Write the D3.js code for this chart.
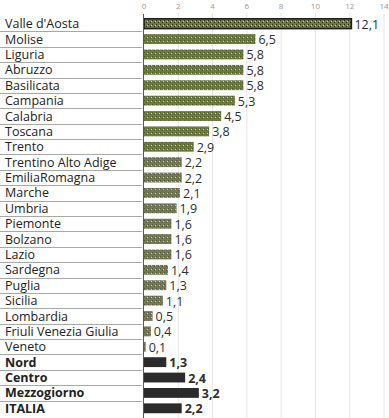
<!DOCTYPE html>
<html>
<head>
<meta charset="utf-8">
<script src="https://cdn.jsdelivr.net/npm/d3@7"></script>
<style>
  body { margin: 0; background: #fff; }
  text { font-family: "Open Sans", "DejaVu Sans", sans-serif; }
</style>
</head>
<body>
<script>
//regions, values and which rows are totals
var regions = ["Valle d'Aosta", "Molise", "Liguria", "Abruzzo", "Basilicata", "Campania",
    "Calabria", "Toscana", "Trento", "Trentino Alto Adige", "EmiliaRomagna", "Marche",
    "Umbria", "Piemonte", "Bolzano", "Lazio", "Sardegna", "Puglia", "Sicilia",
    "Lombardia", "Friuli Venezia Giulia", "Veneto", "Nord", "Centro", "Mezzogiorno", "ITALIA"];
var values = [12.1, 6.5, 5.8, 5.8, 5.8, 5.3, 4.5, 3.8, 2.9, 2.2, 2.2, 2.1, 1.9, 1.6, 1.6, 1.6,
    1.4, 1.3, 1.1, 0.5, 0.4, 0.1, 1.3, 2.4, 3.2, 2.2];
var totals = ["Nord", "Centro", "Mezzogiorno", "ITALIA"];
var ticks = [0, 2, 4, 6, 8, 10, 12, 14];

var width = 389,
    height = 418;

var svg = d3.select("body")
    .append("svg")
    .attr("width", width)
    .attr("height", height);

//textured fills
var defs = svg.append("defs");
function texture(id, base, dot) {
    var p = defs.append("pattern")
        .attr("id", id)
        .attr("patternUnits", "userSpaceOnUse")
        .attr("width", 4)
        .attr("height", 4);
    p.append("rect").attr("width", 4).attr("height", 4).attr("fill", base);
    p.append("rect").attr("x", 0).attr("y", 0).attr("width", 1).attr("height", 1).attr("fill", dot);
    p.append("rect").attr("x", 2).attr("y", 2).attr("width", 1).attr("height", 1).attr("fill", dot);
    p.append("rect").attr("x", 3).attr("y", 1).attr("width", 1).attr("height", 1).attr("fill", "#c9cfa6");
}
texture("olive", "#6d7b3b", "#4e5a2a");
texture("oliveGray", "#757a55", "#55593b");
texture("valle", "#6f7a3c", "#262a16");

var x = d3.scaleLinear()
    .domain([0, 14])
    .range([144, 384]);

var y = d3.scaleBand()
    .domain(regions)
    .range([16, 416])
    .paddingInner(0.36)
    .paddingOuter(0.18);

//gridlines
svg.append("g")
    .selectAll("line")
    .data(ticks.slice(1))
    .enter()
    .append("line")
    .attr("x1", function(d){ return x(d); })
    .attr("x2", function(d){ return x(d); })
    .attr("y1", 13)
    .attr("y2", height)
    .attr("stroke", "#e6e6e6")
    .attr("stroke-width", 1);

//tick labels on top
svg.append("g")
    .selectAll("text")
    .data(ticks)
    .enter()
    .append("text")
    .attr("x", function(d){ return x(d); })
    .attr("y", 9)
    .attr("text-anchor", "middle")
    .attr("font-size", 8)
    .attr("fill", "#999")
    .text(function(d){ return d; });

//row separators on the label side
var step = y.step();
svg.append("g")
    .selectAll("line")
    .data(regions.slice(1))
    .enter()
    .append("line")
    .attr("x1", 0)
    .attr("x2", 142)
    .attr("y1", function(d){ return Math.round(y(d) - step * 0.18) + 0.5; })
    .attr("y2", function(d){ return Math.round(y(d) - step * 0.18) + 0.5; })
    .attr("stroke", "#a8a8a8")
    .attr("stroke-width", 1);

//bars
svg.append("g")
    .selectAll("rect")
    .data(regions)
    .enter()
    .append("rect")
    .attr("x", x(0))
    .attr("y", function(d){ return y(d); })
    .attr("width", function(d, i){ return x(values[i]) - x(0); })
    .attr("height", y.bandwidth())
    .attr("fill", function(d, i){
        if (totals.indexOf(d) >= 0) return "#2b2b2b";
        if (i === 0) return "url(#valle)";
        return values[i] >= 2.5 ? "url(#olive)" : "url(#oliveGray)";
    })
    .attr("stroke", function(d, i){ return i === 0 ? "#1a1a1a" : "none"; })
    .attr("stroke-width", 1.5);

//axis line
svg.append("line")
    .attr("x1", 143.5)
    .attr("x2", 143.5)
    .attr("y1", 14)
    .attr("y2", height)
    .attr("stroke", "#555")
    .attr("stroke-width", 1);

//region labels
svg.append("g")
    .selectAll("text")
    .data(regions)
    .enter()
    .append("text")
    .attr("x", 5)
    .attr("y", function(d){ return y(d) + y.bandwidth() / 2 + 4.5; })
    .attr("font-size", 12.5)
    .attr("font-weight", function(d){ return totals.indexOf(d) >= 0 ? "bold" : "normal"; })
    .attr("fill", "#222")
    .text(function(d){ return d; });

//value labels
svg.append("g")
    .selectAll("text")
    .data(regions)
    .enter()
    .append("text")
    .attr("x", function(d, i){ return x(values[i]) + 3; })
    .attr("y", function(d){ return y(d) + y.bandwidth() / 2 + 5; })
    .attr("font-size", 12.5)
    .attr("font-weight", function(d){ return totals.indexOf(d) >= 0 ? "bold" : "normal"; })
    .attr("fill", "#2e2e2e")
    .text(function(d, i){ return String(values[i]).replace(".", ","); });
</script>
</body>
</html>
